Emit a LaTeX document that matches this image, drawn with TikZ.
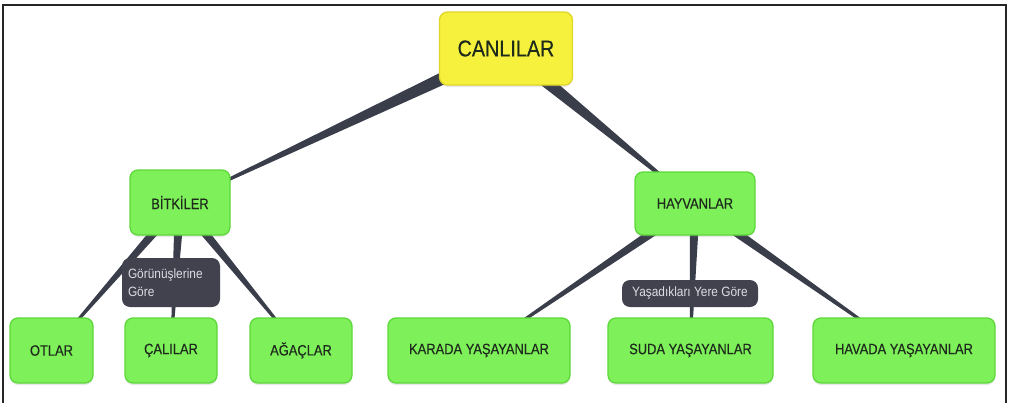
\documentclass[tikz,border=0pt]{standalone}
\usepackage{fontspec}
\setmainfont{Liberation Sans}[FakeStretch=0.88]
\newfontfamily\boxfont{Liberation Sans}[FakeStretch=0.86, FakeBold=0.35]
\usetikzlibrary{calc,backgrounds,shadows}

\definecolor{linkgray}{HTML}{3A3D4A}
\definecolor{leafgreen}{HTML}{7EF05A}
\definecolor{leafedge}{HTML}{5DD83A}
\definecolor{rootyellow}{HTML}{F6F13C}
\definecolor{rootedge}{HTML}{E0D62A}
\definecolor{tagfill}{HTML}{41424D}
\definecolor{tagtext}{HTML}{DCDCE4}
\definecolor{inktext}{HTML}{1E2A1C}

% tapered connector: wide at the parent, a hairline at the child
\newcommand\linkwedge[3]{%
  \fill[linkgray] ($(#1.center)!#3!90:(#2.center)$)
    -- ($(#2.center)!0.6pt!-90:(#1.center)$)
    -- ($(#2.center)!0.6pt!90:(#1.center)$)
    -- ($(#1.center)!#3!-90:(#2.center)$) -- cycle;}

\begin{document}
\begin{tikzpicture}[x=1pt,y=-1pt,
  box/.style={rounded corners=8pt, line width=1.3pt, inner sep=0pt,
    align=center, text=inktext,
    drop shadow={shadow xshift=0pt, shadow yshift=-2pt, opacity=0.18}},
  rootbox/.style={box, fill=rootyellow, draw=rootedge,
    font=\boxfont\fontsize{23}{28}\selectfont},
  midbox/.style={box, fill=leafgreen, draw=leafedge,
    font=\boxfont\fontsize{15}{17}\selectfont},
  leafbox/.style={box, fill=leafgreen, draw=leafedge, minimum height=65pt,
    font=\boxfont\fontsize{15}{18}\selectfont},
  tagbox/.style={rounded corners=8pt, fill=tagfill, text=tagtext,
    font=\fontsize{13.5}{18}\selectfont, inner sep=0pt}
  ]
\useasboundingbox (0,0) rectangle (1010,402);

% frame
\draw[line width=2pt, color=black!85] (3,405) -- (3,5) -- (1006,5) -- (1006,405);

% nodes
\node[rootbox, minimum width=133pt, minimum height=73pt] (canli) at (506,48.5) {CANLILAR};
\node[midbox, minimum width=100pt, minimum height=65pt] (bitki) at (180,202.5) {BİTKİLER};
\node[midbox, minimum width=120pt, minimum height=63pt] (hayvan) at (695,203.5) {HAYVANLAR};

\node[leafbox, minimum width=83pt] (ot) at (51.5,350.5) {OTLAR};
\node[leafbox, minimum width=92pt] (cali) at (171,350.5) {ÇALILAR};
\node[leafbox, minimum width=102pt] (agac) at (301,350.5) {AĞAÇLAR};
\node[leafbox, minimum width=182pt] (kara) at (479,350.5) {KARADA YAŞAYANLAR};
\node[leafbox, minimum width=165pt] (su) at (690.5,350.5) {SUDA YAŞAYANLAR};
\node[leafbox, minimum width=182pt] (hava) at (904,350.5) {HAVADA YAŞAYANLAR};

% relation labels
\node[tagbox, minimum width=98pt, minimum height=49pt, text width=86pt,
  align=left, inner xsep=6pt] (tagbitki) at (171,282.5) {Görünüşlerine\\Göre};
\node[tagbox, minimum width=136pt, minimum height=27pt] (taghayvan) at (690,293.5) {Yaşadıkları Yere Göre};

% connectors behind everything
\begin{pgfonlayer}{background}
  \linkwedge{canli}{bitki}{7.5pt}
  \linkwedge{canli}{hayvan}{7.5pt}
  \linkwedge{bitki}{ot}{5pt}
  \linkwedge{bitki}{cali}{5pt}
  \linkwedge{bitki}{agac}{5pt}
  \linkwedge{hayvan}{kara}{5pt}
  \linkwedge{hayvan}{su}{5pt}
  \linkwedge{hayvan}{hava}{5pt}
\end{pgfonlayer}
\end{tikzpicture}
\end{document}
